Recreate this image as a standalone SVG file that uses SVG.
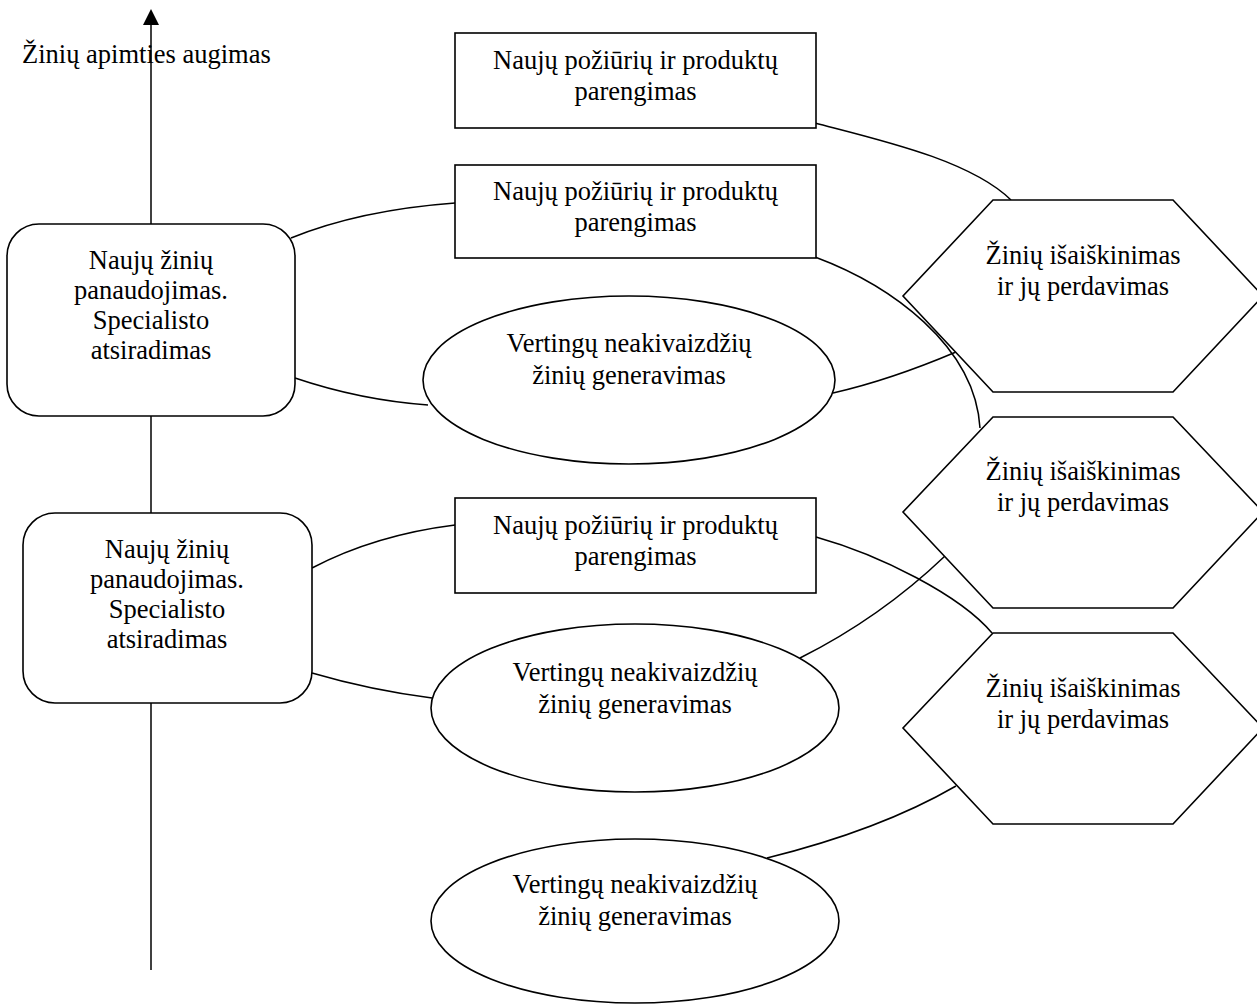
<svg xmlns="http://www.w3.org/2000/svg" width="1257" height="1004" viewBox="0 0 1257 1004">
<style>
  .shape { fill: #ffffff; stroke: #000000; stroke-width: 1.6; }
  .conn { fill: none; stroke: #000000; stroke-width: 1.5; }
  text { font-family: "Liberation Serif", "Times New Roman", serif; font-size: 26.5px; fill: #000000; }
  .c { text-anchor: middle; }
</style>
<defs>
  <marker id="arrow" markerUnits="userSpaceOnUse" markerWidth="16" markerHeight="16" viewBox="0 0 16 16" refX="0" refY="8" orient="auto">
    <path d="M0,0 L16,8 L0,16 z" fill="#000000"/>
  </marker>
</defs>
<rect width="1257" height="1004" fill="#ffffff"/>
<text id="axis-label" x="22" y="63">Žinių apimties augimas</text>
<g id="connectors">
  <line class="conn" x1="151" y1="970" x2="151" y2="25" marker-end="url(#arrow)"/>
  <path class="conn" d="M815,123 C880,140 970,160 1011,200"/>
  <path class="conn" d="M291,238 Q360,210 455,203"/>
  <path class="conn" d="M815,257 C890,285 975,345 980,428"/>
  <path class="conn" d="M295,378 Q360,400 428,405"/>
  <path class="conn" d="M833,393 Q890,380 956,352"/>
  <path class="conn" d="M312,568 Q375,535 455,525"/>
  <path class="conn" d="M816,537 C880,555 960,595 992,633"/>
  <path class="conn" d="M800,658 Q880,618 945,556"/>
  <path class="conn" d="M312,673 Q370,690 432,698"/>
  <path class="conn" d="M767,858 Q880,830 956,786"/>
</g>
<g id="rect-a">
  <rect class="shape" x="455" y="33" width="361" height="95"/>
  <text class="c" x="635.5" y="69">Naujų požiūrių ir produktų</text>
  <text class="c" x="635.5" y="100">parengimas</text>
</g>
<g id="rect-b">
  <rect class="shape" x="455" y="165" width="361" height="93"/>
  <text class="c" x="635.5" y="200">Naujų požiūrių ir produktų</text>
  <text class="c" x="635.5" y="231">parengimas</text>
</g>
<g id="rect-c">
  <rect class="shape" x="455" y="498" width="361" height="95"/>
  <text class="c" x="635.5" y="534">Naujų požiūrių ir produktų</text>
  <text class="c" x="635.5" y="565">parengimas</text>
</g>
<g id="rrect-1">
  <rect class="shape" x="7" y="224" width="288" height="192" rx="32" ry="32"/>
  <text class="c" x="151" y="269">Naujų žinių</text>
  <text class="c" x="151" y="299">panaudojimas.</text>
  <text class="c" x="151" y="329">Specialisto</text>
  <text class="c" x="151" y="359">atsiradimas</text>
</g>
<g id="rrect-2">
  <rect class="shape" x="23" y="513" width="289" height="190" rx="32" ry="32"/>
  <text class="c" x="167" y="558">Naujų žinių</text>
  <text class="c" x="167" y="588">panaudojimas.</text>
  <text class="c" x="167" y="618">Specialisto</text>
  <text class="c" x="167" y="648">atsiradimas</text>
</g>
<g id="ellipse-1">
  <ellipse class="shape" cx="629" cy="380" rx="206" ry="84"/>
  <text class="c" x="629" y="352">Vertingų neakivaizdžių</text>
  <text class="c" x="629" y="384">žinių generavimas</text>
</g>
<g id="ellipse-2">
  <ellipse class="shape" cx="635" cy="708" rx="204" ry="84"/>
  <text class="c" x="635" y="681">Vertingų neakivaizdžių</text>
  <text class="c" x="635" y="713">žinių generavimas</text>
</g>
<g id="ellipse-3">
  <ellipse class="shape" cx="635" cy="921" rx="204" ry="82"/>
  <text class="c" x="635" y="893">Vertingų neakivaizdžių</text>
  <text class="c" x="635" y="925">žinių generavimas</text>
</g>
<g id="hex-1">
  <polygon class="shape" points="993,200 1173,200 1263,296 1173,392 993,392 903,296"/>
  <text class="c" x="1083" y="264">Žinių išaiškinimas</text>
  <text class="c" x="1083" y="295">ir jų perdavimas</text>
</g>
<g id="hex-2">
  <polygon class="shape" points="993,417 1173,417 1263,512 1173,608 993,608 903,512"/>
  <text class="c" x="1083" y="480">Žinių išaiškinimas</text>
  <text class="c" x="1083" y="511">ir jų perdavimas</text>
</g>
<g id="hex-3">
  <polygon class="shape" points="993,633 1173,633 1263,728 1173,824 993,824 903,728"/>
  <text class="c" x="1083" y="697">Žinių išaiškinimas</text>
  <text class="c" x="1083" y="728">ir jų perdavimas</text>
</g>
</svg>
